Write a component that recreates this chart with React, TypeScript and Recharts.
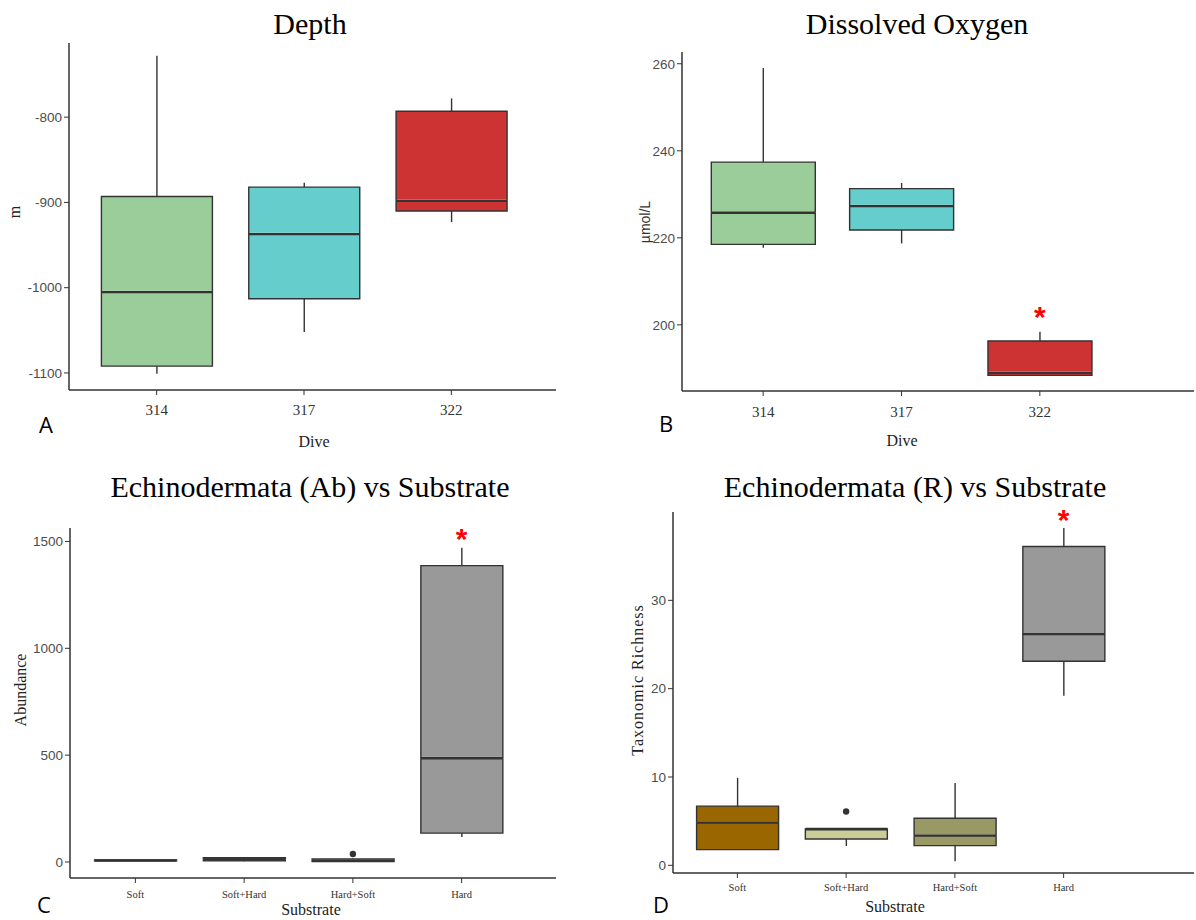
import { ComposedChart, Bar, Scatter, XAxis, YAxis } from 'recharts'

const SERIF = '"Liberation Serif", "Times New Roman", serif'
const SANS = '"Liberation Sans", Arial, sans-serif'
const LETTER = '"Open Sans", "Noto Sans", sans-serif'
const EDGE = '#333333'
const AXIS = '#333333'

// A: depth by dive
const dives = ['314', '317', '322']
const diveFills = ['#9BCD9B', '#66CDCD', '#CD3333']
const depthMin = [-1101, -1052, -923]
const depthQ1 = [-1092, -1013, -910]
const depthMed = [-1005, -937, -898]
const depthQ3 = [-893, -882, -793]
const depthMax = [-728, -877, -778]
const depthTicks = [-1100, -1000, -900, -800]

// B: dissolved oxygen by dive
const oxyMin = [217.7, 218.7, 188.4]
const oxyQ1 = [218.5, 221.8, 188.4]
const oxyMed = [225.8, 227.3, 189.0]
const oxyQ3 = [237.4, 231.3, 196.3]
const oxyMax = [259, 232.6, 198.4]
const oxyStar: (number | null)[] = [null, null, 203.5]
const oxyTicks = [200, 220, 240, 260]

// C: echinoderm abundance by substrate
const substrates = ['Soft', 'Soft+Hard', 'Hard+Soft', 'Hard']
const abFills = ['#999999', '#999999', '#999999', '#999999']
const abMin = [4, 3, 0, 117]
const abQ1 = [5, 5, 2, 135]
const abMed = [7, 12, 6, 486]
const abQ3 = [9, 20, 14, 1387]
const abMax = [10, 22, 16, 1471]
const abOut: (number | null)[] = [null, null, 37, null]
const abStar: (number | null)[] = [null, null, null, 1544]
const abTicks = [0, 500, 1000, 1500]

// D: echinoderm richness by substrate
const richFills = ['#996600', '#CCCC99', '#999966', '#999999']
const richMin = [1.78, 2.19, 0.45, 19.2]
const richQ1 = [1.78, 2.98, 2.23, 23.1]
const richMed = [4.84, 4.1, 3.37, 26.2]
const richQ3 = [6.7, 4.12, 5.33, 36.1]
const richMax = [9.9, 4.12, 9.33, 38.2]
const richOut: (number | null)[] = [null, 6.09, null, null]
const richStar: (number | null)[] = [null, null, null, 39.9]
const richTicks = [0, 10, 20, 30]

const none = (n: number) => Array(n).fill(null)

function makeRows(cats: string[], mins: number[], q1s: number[], meds: number[], q3s: number[], maxs: number[], fills: string[], outs: (number | null)[], stars: (number | null)[]) {
  return cats.map((name, i) => ({
    name,
    base: mins[i],
    lowW: q1s[i] - mins[i],
    boxLo: meds[i] - q1s[i],
    boxHi: q3s[i] - meds[i],
    upW: maxs[i] - q3s[i],
    fill: fills[i],
    out: outs[i],
    star: stars[i],
  }))
}

const Hidden = () => <g />

const Whisker = (p: any) => {
  const cx = p.x + p.width / 2
  return <line x1={cx} x2={cx} y1={p.y} y2={p.y + p.height} stroke={EDGE} strokeWidth={1.4} />
}

const BoxLower = (p: any) => {
  const top = Math.min(p.y, p.y + p.height)
  const bot = Math.max(p.y, p.y + p.height)
  const l = p.x
  const r = p.x + p.width
  return (
    <g>
      <rect x={l} y={top} width={p.width} height={bot - top} fill={p.payload.fill} />
      <path d={`M${l},${top}V${bot}H${r}V${top}`} fill="none" stroke={EDGE} strokeWidth={1.4} />
      <line x1={l} x2={r} y1={top} y2={top} stroke={EDGE} strokeWidth={2.6} />
    </g>
  )
}

const BoxUpper = (p: any) => {
  const top = Math.min(p.y, p.y + p.height)
  const bot = Math.max(p.y, p.y + p.height)
  const l = p.x
  const r = p.x + p.width
  if (bot - top < 0.01) return <g />
  return (
    <g>
      <rect x={l} y={top} width={p.width} height={Math.max(0, bot - top - 1.3)} fill={p.payload.fill} />
      <path d={`M${l},${bot}V${top}H${r}V${bot}`} fill="none" stroke={EDGE} strokeWidth={1.4} />
    </g>
  )
}

const Outlier = (p: any) =>
  p.payload?.out == null || !isFinite(p.cy) ? <g /> : <circle cx={p.cx} cy={p.cy} r={3.2} fill="#333" />

const Star = (p: any) =>
  p.payload?.star == null || !isFinite(p.cy) ? (
    <g />
  ) : (
    <text x={p.cx} y={p.cy + 17} textAnchor="middle" fontSize={30} fontWeight="bold" fontFamily={SANS} fill="#FF0000">
      *
    </text>
  )

function BoxPanel({ rows, box, domain, ticks, pad, xFont, xMargin }: any) {
  const [x0, y0, x1, y1] = box
  const W = x1 - x0 + 65
  const H = y1 - y0 + 60
  return (
    <div style={{ position: 'absolute', left: x0 - 60, top: y0 - 20, width: W, height: H }}>
      <ComposedChart width={W} height={H} data={rows} margin={{ top: 20, right: 5, bottom: 0, left: 0 }} barCategoryGap="12.5%">
        <XAxis
          dataKey="name"
          type="category"
          interval={0}
          padding={{ left: pad[0], right: pad[1] }}
          height={40}
          tickSize={5}
          tickMargin={xMargin}
          axisLine={{ stroke: AXIS, strokeWidth: 1.5 }}
          tickLine={{ stroke: AXIS }}
          tick={{ fontFamily: SERIF, fontSize: xFont, fill: '#333' }}
        />
        <YAxis
          yAxisId="main"
          type="number"
          domain={domain}
          ticks={ticks}
          allowDataOverflow
          width={60}
          tickSize={5}
          tickMargin={2}
          axisLine={{ stroke: AXIS, strokeWidth: 1.5 }}
          tickLine={{ stroke: AXIS }}
          tick={{ fontFamily: SANS, fontSize: 13.5, fill: '#4d4d4d' }}
        />
        <YAxis yAxisId="pt" type="number" domain={domain} hide />
        <Bar yAxisId="main" dataKey="base" stackId="b" shape={Hidden} isAnimationActive={false} />
        <Bar yAxisId="main" dataKey="lowW" stackId="b" shape={Whisker} isAnimationActive={false} />
        <Bar yAxisId="main" dataKey="boxLo" stackId="b" shape={BoxLower} isAnimationActive={false} />
        <Bar yAxisId="main" dataKey="boxHi" stackId="b" shape={BoxUpper} isAnimationActive={false} />
        <Bar yAxisId="main" dataKey="upW" stackId="b" shape={Whisker} isAnimationActive={false} />
        <Scatter yAxisId="pt" dataKey="out" shape={Outlier} isAnimationActive={false} />
        <Scatter yAxisId="pt" dataKey="star" shape={Star} isAnimationActive={false} />
      </ComposedChart>
    </div>
  )
}

const depthRows = makeRows(dives, depthMin, depthQ1, depthMed, depthQ3, depthMax, diveFills, none(3), none(3))
const oxyRows = makeRows(dives, oxyMin, oxyQ1, oxyMed, oxyQ3, oxyMax, diveFills, none(3), oxyStar)
const abRows = makeRows(substrates, abMin, abQ1, abMed, abQ3, abMax, abFills, abOut, abStar)
const richRows = makeRows(substrates, richMin, richQ1, richMed, richQ3, richMax, richFills, richOut, richStar)

export default function App() {
  return (
    <div style={{ position: 'absolute', left: 0, top: 0, width: 1196, height: 920, background: '#fff', overflow: 'hidden' }}>
      <BoxPanel rows={depthRows} box={[69, 43, 556, 390]} domain={[-1120, -713]} ticks={depthTicks} pad={[14, 31]} xFont={15} xMargin={9} />
      <BoxPanel rows={oxyRows} box={[682, 52, 1194, 391]} domain={[184.8, 262.7]} ticks={oxyTicks} pad={[12, 85]} xFont={15} xMargin={10} />
      <BoxPanel rows={abRows} box={[70, 528, 556, 878]} domain={[-75, 1563]} ticks={abTicks} pad={[11, 40]} xFont={10.5} xMargin={7.5} />
      <BoxPanel rows={richRows} box={[673, 512, 1194, 873]} domain={[-0.87, 40]} ticks={richTicks} pad={[10, 76]} xFont={10.5} xMargin={5.5} />
      <svg width={1196} height={920} style={{ position: 'absolute', left: 0, top: 0, pointerEvents: 'none' }}>
        <g fontFamily={SERIF} fill="#000" textAnchor="middle">
          <text x={310} y={34} fontSize={30}>Depth</text>
          <text x={917} y={34} fontSize={30}>Dissolved Oxygen</text>
          <text x={310} y={497} fontSize={30}>Echinodermata (Ab) vs Substrate</text>
          <text x={915} y={497} fontSize={30}>Echinodermata (R) vs Substrate</text>
        </g>
        <g fontFamily={SERIF} fill="#222" textAnchor="middle" fontSize={16}>
          <text x={314} y={447}>Dive</text>
          <text x={902} y={446}>Dive</text>
          <text x={311} y={915}>Substrate</text>
          <text x={895} y={912}>Substrate</text>
          <text transform="translate(20,212) rotate(-90)">m</text>
          <text transform="translate(26,690) rotate(-90)">Abundance</text>
          <text transform="translate(643,680) rotate(-90)" letterSpacing={1}>Taxonomic Richness</text>
        </g>
        <text transform="translate(650,222) rotate(-90)" textAnchor="middle" fontFamily={SANS} fontSize={14} fill="#333">
          µmol/L
        </text>
        <g fontFamily={LETTER} fontSize={22} fill="#000">
          <text x={39} y={433}>A</text>
          <text x={659} y={432}>B</text>
          <text x={37} y={913}>C</text>
          <text x={653} y={913}>D</text>
        </g>
      </svg>
    </div>
  )
}
